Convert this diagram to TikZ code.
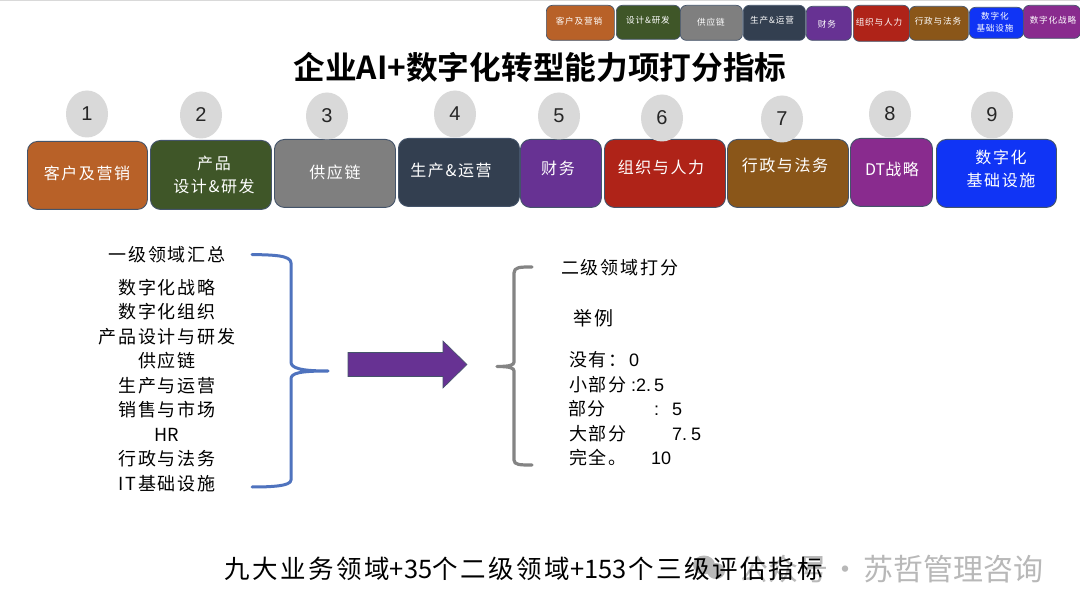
\documentclass[tikz,border=0pt]{standalone}
\usepackage{fontspec}
\setmainfont[LetterSpace=10,BoldFont={Noto Sans CJK SC Bold}]{Noto Sans CJK SC}
\setsansfont{Liberation Sans}
\newfontfamily\titlefont{Noto Sans CJK SC Bold}
\newfontfamily\plaincjk{Noto Sans CJK SC}
\usetikzlibrary{shapes.geometric}
\definecolor{cOrange}{HTML}{B86128}
\definecolor{cGreen}{HTML}{3F5628}
\definecolor{cGrey}{HTML}{7F7F7F}
\definecolor{cNavy}{HTML}{333F50}
\definecolor{cPurple}{HTML}{673293}
\definecolor{cRed}{HTML}{AF2318}
\definecolor{cBrown}{HTML}{8A5619}
\definecolor{cMagenta}{HTML}{892B8E}
\definecolor{cBlue}{HTML}{1034F5}
\definecolor{cEdge}{HTML}{44546A}
\definecolor{cBrace}{HTML}{4F73BE}
\definecolor{cBraceGrey}{HTML}{848484}
\definecolor{cCircle}{HTML}{D9D9D9}
\definecolor{cMark}{HTML}{B8B8B8}
\tikzset{
  x=1pt,y=-1pt,
  bigbox/.style={draw=cEdge,line width=0.9pt,rounded corners=10pt,inner sep=0pt},
  smallbox/.style={draw=cEdge,line width=0.7pt,rounded corners=6pt,inner sep=0pt},
  biglabel/.style={text=white,font=\fontsize{16}{23}\selectfont,align=center,inner sep=0pt},
  smalllabel/.style={text=white,font=\fontsize{8.6}{12}\selectfont,align=center,inner sep=0pt},
  badge/.style={ellipse,fill=cCircle,inner sep=0pt,minimum width=42pt,minimum height=47pt,font=\sffamily\fontsize{20}{24}\selectfont,text=black!85},
  leftitem/.style={font=\fontsize{18}{20}\selectfont,inner sep=0pt,text=black},
  rightitem/.style={font=\fontsize{18}{20}\selectfont,inner sep=0pt,text=black,anchor=west},
  rightnum/.style={font=\sffamily\fontsize{18}{20}\selectfont,inner sep=0pt,text=black,anchor=west},
  bracket/.style={line join=round,line cap=round},
}
\newcommand{\latinrun}[1]{{\plaincjk #1}}
\begin{document}
\begin{tikzpicture}
\useasboundingbox (0,0) rectangle (1080,612);
\fill[white] (0,0) rectangle (1080,612);
\draw[black!15,line width=1.5pt] (0,0.7) -- (1080,0.7);

% legend
\foreach \nm/\xa/\ya/\xb/\yb/\col/\lx/\ly/\txt in {
 la/546/5/614/40/cOrange/579/21/客户及营销,
 lb/616/5/680/39/cGreen/648/20/设计\&研发,
 lc/680/5/742/40/cGrey/711/22/供应链,
 ld/743/5/805/40/cNavy/772/20/生产\&运营,
 le/806/6/851/40/cPurple/827/24/财务,
 lf/853/5/909/41/cRed/879/22/组织与人力,
 lg/909/6/968/40/cBrown/938/21/行政与法务,
 lh/969/7/1023/38/cBlue/995/22/{数字化\\基础设施},
 li/1023/5/1080/38/cMagenta/1053/20/数字化战略}{
  \pgfmathsetlengthmacro\bw{(\xb-\xa)*1pt}
  \pgfmathsetlengthmacro\bh{(\yb-\ya)*1pt}
  \node[smallbox,fill=\col,minimum width=\bw,minimum height=\bh,anchor=north west] (\nm) at (\xa,\ya) {};
  \node[smalllabel] (\nm t) at (\lx,\ly) {\txt};
}

\node[font=\titlefont\fontsize{31.7}{36}\selectfont,inner sep=0pt] (title) at (540,67) {企业AI+数字化转型能力项打分指标};

% main boxes
\foreach \nm/\xa/\ya/\xb/\yb/\col/\lx/\ly/\txt in {
 ba/27/141/147/209/cOrange/87/173/客户及营销,
 bb/150/140/271/209/cGreen/214/175/{产品\\设计\&研发},
 bc/274/139/395/207/cGrey/335/172/供应链,
 bd/398/138/519/206/cNavy/451/170/生产\&运营,
 be/520/139/601/207/cPurple/558/168/财务,
 bf/604/139/725/207/cRed/661/167/组织与人力,
 bg/727/139/848/207/cBrown/785/165/行政与法务,
 bh/850/138/932/206/cMagenta/892/169/\latinrun{DT}战略,
 bi/936/139/1056/207/cBlue/1001/169/{数字化\\基础设施}}{
  \pgfmathsetlengthmacro\bw{(\xb-\xa)*1pt}
  \pgfmathsetlengthmacro\bh{(\yb-\ya)*1pt}
  \node[bigbox,fill=\col,minimum width=\bw,minimum height=\bh,anchor=north west] (\nm) at (\xa,\ya) {};
  \node[biglabel] (\nm t) at (\lx,\ly) {\txt};
}

% number badges
\foreach \nm/\xa/\ya/\txt in {n1/87/114/1,n2/201/115/2,n3/327/116/3,n4/455/114/4,n5/559/116/5,n6/662/118/6,n7/782/119/7,n8/890/114/8,n9/992/115/9}{
  \node[badge] (\nm) at (\xa,\ya) {\txt};
}

% left column
\foreach \nm/\ya/\txt in {
 a0/255/一级领域汇总,
 a1/288/数字化战略,
 a2/312/数字化组织,
 a3/337/产品设计与研发,
 a4/361/供应链,
 a5/386/生产与运营,
 a6/410/销售与市场,
 a7/435/\latinrun{HR},
 a8/459/行政与法务,
 a9/484/IT基础设施}{
  \node[leftitem] (\nm) at (167,\ya) {\txt};
}

% blue brace
\draw[bracket,cBrace,line width=3pt] (252,254.5) .. controls (272,255) and (291,255) .. (291,263)
  -- (291,362) .. controls (291,368) and (300,371) .. (328,371)
  .. controls (300,371) and (291,373) .. (291,379)
  -- (291,480) .. controls (291,486) and (272,487) .. (252,487);

% arrow
\draw[draw=cEdge,line width=0.6pt,fill=cPurple,line join=miter] (348,352.5) -- (443,352.5) -- (443,341) -- (467,364.5) -- (443,388) -- (443,376.5) -- (348,376.5) -- cycle;

% grey brace
\draw[bracket,cBraceGrey,line width=3.2pt] (532,267) .. controls (520,267) and (514,267) .. (514,273)
  -- (514,362) .. controls (514,365) and (510,366.5) .. (497,366.5)
  .. controls (510,366.5) and (514,368) .. (514,371)
  -- (514,460) .. controls (514,465) and (520,465) .. (532,465);

% right column
\node[rightitem] (b0) at (561,268) {二级领域打分};
\node[rightitem,font=\fontsize{19}{22}\selectfont] (b1) at (573,318) {举例};
\node[rightitem] (b2) at (569,360) {没有：};
\node[rightnum] (b2v) at (629,360) {0};
\node[rightitem] (b3) at (569,385) {小部分};
\node[rightnum] (b3v) at (631,385) {:2.\hspace{3pt}5};
\node[rightitem] (b4) at (568,409) {部分};
\node[rightnum] (b4v) at (654,409) {:\hspace{13pt}5};
\node[rightitem] (b5) at (569,434) {大部分};
\node[rightnum] (b5v) at (672,434) {7.\hspace{4pt}5};
\node[rightitem] (b6) at (569,458) {完全。};
\node[rightnum] (b6v) at (651,458) {10};

% watermark
\fill[cMark] (704,565) ellipse (11pt and 9.5pt);
\fill[cMark] (716,571) ellipse (9pt and 8pt);
\node[font=\plaincjk\fontsize{30}{32}\selectfont,text=cMark,inner sep=0pt,anchor=west] (mark) at (738,569) {公众号\hspace{-4pt} · \hspace{-4pt}苏哲管理咨询};

% bottom line
\node[font=\fontsize{25.5}{28}\selectfont,inner sep=0pt,anchor=west,text=black] (foot) at (224,569) {九大业务领域\latinrun{+35}个二级领域\latinrun{+153}\hspace{2pt}个三级评估指标};
\end{tikzpicture}
\end{document}
